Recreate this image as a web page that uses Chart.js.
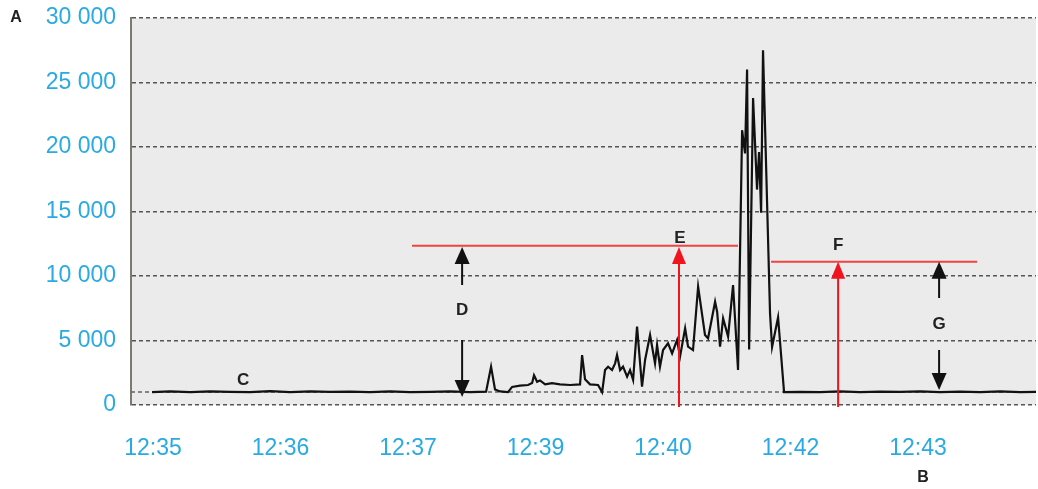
<!DOCTYPE html>
<html>
<head>
<meta charset="utf-8">
<script src="https://cdn.jsdelivr.net/npm/chart.js@4"></script>
<style>
  body { margin: 0; background: #fff; }
  canvas { display: block; }
</style>
</head>
<body>
<canvas id="myChart" width="1038" height="489"></canvas>
<script>
// tick labels of the time axis (equally spaced on the picture)
const timeLabels = ['12:35', '12:36', '12:37', '12:39', '12:40', '12:42', '12:43']
const yTicks = [0, 5000, 10000, 15000, 20000, 25000, 30000]

// series position in tick units (0 = 12:35, 1 = 12:36 ...) and value
const seriesX = [-0.008, 0.133, 0.290, 0.447, 0.604, 0.761, 0.918, 1.075, 1.231, 1.388, 1.545, 1.702, 1.859, 2.016, 2.173, 2.329, 2.486, 2.612,
  2.651, 2.682, 2.722, 2.784, 2.816, 2.878, 2.941, 2.973, 2.988, 3.012, 3.035, 3.075, 3.129, 3.192, 3.271, 3.349, 3.365, 3.388, 3.427, 3.490, 3.522,
  3.545, 3.569, 3.600, 3.624, 3.639, 3.663, 3.686, 3.718, 3.741, 3.765, 3.796, 3.835, 3.859, 3.898, 3.937, 3.953, 3.976, 4.000, 4.039, 4.071,
  4.110, 4.133, 4.173, 4.196, 4.235, 4.275, 4.329, 4.353, 4.408, 4.424, 4.447, 4.471, 4.510, 4.549, 4.588,
  4.620, 4.643, 4.659, 4.675, 4.706, 4.737, 4.753, 4.769, 4.784, 4.839, 4.855, 4.902, 4.949,
  5.075, 5.231, 5.388, 5.545, 5.702, 5.859, 6.016, 6.173, 6.329, 6.486, 6.643, 6.800, 6.925]
const seriesY = [1000, 1050, 1000, 1060, 1020, 1000, 1080, 1000, 1050, 1010, 1040, 1000, 1060, 1000, 1020, 1050, 1000, 1030,
  2970, 1200, 1050, 1000, 1400, 1500, 1550, 1700, 2300, 1800, 1900, 1600, 1700, 1600, 1550, 1600, 3870, 2000, 1600, 1550, 1000,
  2710, 2970, 2710, 3230, 3875, 2710, 2970, 2190, 2710, 1940, 6070, 1420, 3490, 5430, 3230, 4650, 2970, 4260, 4780, 4000,
  5040, 3750, 5940, 4520, 4260, 9170, 5430, 5170, 8010, 7230, 4520, 6720, 5300, 9300, 2710,
  21300, 19500, 26000, 4300, 23800, 16700, 19600, 14900, 27500, 7100, 4500, 6800, 1000,
  1020, 1000, 1050, 1000, 1030, 1010, 1060, 1000, 1040, 1000, 1050, 1000, 1020]

// extra dashed reference level
const baseLevel = 1000

// red level lines: [xStart, xEnd, value]
const redLevels = [[2.031, 4.588, 12350], [4.847, 6.463, 11110]]
// red arrows from 0 up to the level: [x, top value]
const redArrows = [[4.125, 12250], [5.373, 11110]]
// black double arrows: [x, upper tip, upper tail, lower tail, lower tip]
const blackArrows = [[2.424, 12250, 9300, 5040, 620], [6.165, 11110, 8290, 4260, 1160]]
// letters on the plot: [text, x, value]
const plotLetters = [['C', 0.706, 1940], ['D', 2.424, 7350], ['E', 4.133, 12950], ['F', 5.373, 12400], ['G', 6.165, 6250]]

const seriesData = seriesX.map((x, i) => ({ x: x, y: seriesY[i] }))

function fmt(v) {
  return String(v).replace(/\B(?=(\d{3})+(?!\d))/g, ' ')
}

function arrowHead(ctx, x, yTip, dir, half, len, color) {
  ctx.fillStyle = color
  ctx.beginPath()
  ctx.moveTo(x, yTip)
  ctx.lineTo(x - half, yTip + dir * len)
  ctx.lineTo(x + half, yTip + dir * len)
  ctx.closePath()
  ctx.fill()
}

const bgPlugin = {
  id: 'bg',
  beforeDraw(chart) {
    const a = chart.chartArea
    const ctx = chart.ctx
    ctx.save()
    ctx.fillStyle = '#ebebeb'
    ctx.fillRect(a.left, a.top, a.right - a.left, a.bottom - a.top)
    ctx.restore()
  }
}

const notesPlugin = {
  id: 'notes',
  afterDatasetsDraw(chart) {
    const ctx = chart.ctx
    const xs = chart.scales.x
    const ys = chart.scales.y
    ctx.save()
    // red levels
    ctx.strokeStyle = '#ef4444'
    ctx.lineWidth = 2
    redLevels.forEach(l => {
      const y = ys.getPixelForValue(l[2])
      ctx.beginPath()
      ctx.moveTo(xs.getPixelForValue(l[0]), y)
      ctx.lineTo(xs.getPixelForValue(l[1]), y)
      ctx.stroke()
    })
    // red arrows
    redArrows.forEach(r => {
      const x = xs.getPixelForValue(r[0])
      const yTop = ys.getPixelForValue(r[1])
      ctx.strokeStyle = '#f0141e'
      ctx.lineWidth = 2
      ctx.beginPath()
      ctx.moveTo(x, ys.getPixelForValue(0) + 2)
      ctx.lineTo(x, yTop + 10)
      ctx.stroke()
      arrowHead(ctx, x, yTop, 1, 7, 17, '#f0141e')
    })
    // black double arrows
    blackArrows.forEach(b => {
      const x = xs.getPixelForValue(b[0])
      const up = ys.getPixelForValue(b[1])
      const upTail = ys.getPixelForValue(b[2])
      const downTail = ys.getPixelForValue(b[3])
      const down = ys.getPixelForValue(b[4])
      ctx.strokeStyle = '#111'
      ctx.lineWidth = 2
      ctx.beginPath()
      ctx.moveTo(x, upTail)
      ctx.lineTo(x, up + 10)
      ctx.moveTo(x, downTail)
      ctx.lineTo(x, down - 10)
      ctx.stroke()
      arrowHead(ctx, x, up, 1, 7.5, 17, '#111')
      arrowHead(ctx, x, down, -1, 7.5, 17, '#111')
    })
    // letters
    ctx.fillStyle = '#222'
    ctx.font = 'bold 17px "Liberation Sans", Arial, sans-serif'
    ctx.textAlign = 'center'
    ctx.textBaseline = 'middle'
    plotLetters.forEach(t => {
      ctx.fillText(t[0], xs.getPixelForValue(t[1]), ys.getPixelForValue(t[2]))
    })
    ctx.restore()
  },
  afterDraw(chart) {
    const ctx = chart.ctx
    const xs = chart.scales.x
    ctx.save()
    ctx.fillStyle = '#222'
    ctx.font = 'bold 16px "Liberation Sans", Arial, sans-serif'
    ctx.textAlign = 'center'
    ctx.textBaseline = 'middle'
    ctx.fillText('A', 16, 18)
    ctx.fillText('B', xs.getPixelForValue(6) + 5, 478)
    ctx.restore()
  }
}

const ctx = document.getElementById('myChart').getContext('2d')
const myChart = new Chart(ctx, {
  type: 'line',
  data: {
    datasets: [
      {
        data: seriesData,
        borderColor: '#111',
        borderWidth: 2.2,
        pointRadius: 0,
        tension: 0
      },
      {
        data: [{ x: -0.173, y: baseLevel }, { x: 6.925, y: baseLevel }],
        borderColor: '#666',
        borderWidth: 1.5,
        borderDash: [4, 3],
        pointRadius: 0
      }
    ]
  },
  options: {
    responsive: false,
    animation: false,
    layout: { padding: { top: 18, right: 2, left: 0, bottom: 0 } },
    plugins: {
      legend: { display: false },
      tooltip: { enabled: false }
    },
    scales: {
      x: {
        type: 'linear',
        min: -0.173,
        max: 6.925,
        afterBuildTicks: (s) => { s.ticks = timeLabels.map((t, i) => ({ value: i })) },
        afterFit: (s) => { s.height = 84; s.paddingLeft = 0; s.paddingRight = 0 },
        grid: { display: false },
        border: { display: false },
        ticks: {
          autoSkip: false,
          maxRotation: 0,
          padding: 22,
          color: '#29aae2',
          font: { family: '"Liberation Sans", Arial, sans-serif', size: 23 },
          callback: (v) => timeLabels[v]
        }
      },
      y: {
        min: 0,
        max: 30000,
        afterBuildTicks: (s) => { s.ticks = yTicks.map(v => ({ value: v })) },
        afterFit: (s) => { s.width = 131; s.paddingTop = 0; s.paddingBottom = 0 },
        grid: { color: '#555', lineWidth: 1.5, drawTicks: false },
        border: { display: true, color: '#7a7a72', width: 2, dash: [4, 3] },
        ticks: {
          padding: 15,
          color: '#29aae2',
          font: { family: '"Liberation Sans", Arial, sans-serif', size: 23 },
          callback: (v) => fmt(v)
        }
      }
    }
  },
  plugins: [bgPlugin, notesPlugin]
})
</script>
</body>
</html>
